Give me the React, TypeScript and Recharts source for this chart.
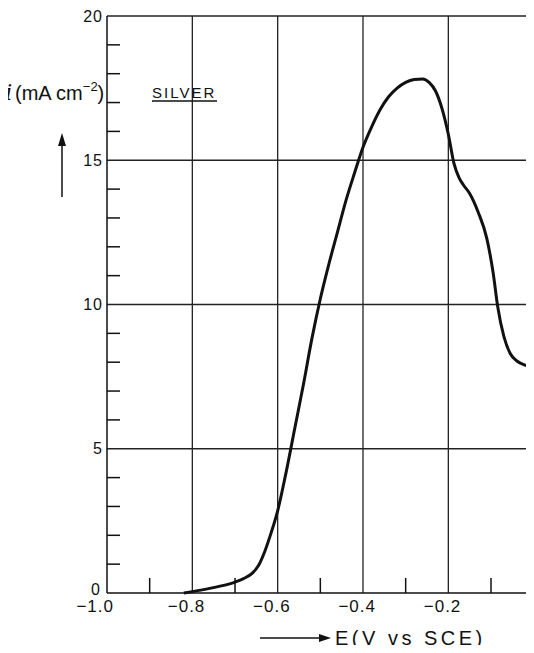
import { LineChart, Line, XAxis, YAxis, ReferenceLine } from 'recharts';

// potential E (V vs SCE) and current density i (mA cm-2)
const potential = [
  -0.82, -0.78, -0.74, -0.7, -0.68, -0.66, -0.645, -0.63, -0.615, -0.6, -0.58, -0.56,
  -0.54, -0.52, -0.5, -0.48, -0.46, -0.44, -0.42, -0.4, -0.38, -0.36, -0.34, -0.32,
  -0.3, -0.28, -0.26, -0.245, -0.23, -0.215, -0.2, -0.187, -0.175, -0.165, -0.15,
  -0.13, -0.11, -0.095, -0.084, -0.07, -0.055, -0.04, -0.02, 0, 0.03,
];
const current = [
  0, 0.1, 0.22, 0.38, 0.5, 0.68, 0.95, 1.45, 2.1, 2.85, 4.2, 5.7,
  7.2, 8.8, 10.2, 11.4, 12.5, 13.6, 14.55, 15.45, 16.15, 16.75, 17.2, 17.5,
  17.7, 17.8, 17.82, 17.7, 17.4, 16.8, 15.9, 14.9, 14.4, 14.15, 13.85,
  13.2, 12.3, 11.1, 9.9, 8.9, 8.3, 8.05, 7.9, 7.8, 7.7,
];

const xTicks = [-1, -0.9, -0.8, -0.7, -0.6, -0.5, -0.4, -0.3, -0.2, -0.1, 0, 0.1, 0.2];
const yTicks = Array.from({ length: 21 }, (_, k) => k);
const gridE = [-0.8, -0.6, -0.4, -0.2, 0];
const gridI = [5, 10, 15, 20];

const data = potential.map((e, k) => ({ e, i: current[k] }));

const INK = '#111';
const FONT = '"Liberation Sans", Arial, sans-serif';

const YTick = ({ x, y, payload }: any) => {
  const v = payload.value;
  if (v % 5 === 0) {
    return (
      <text x={v === 0 ? x - 6 : x - 4} y={v === 0 ? y - 4 : y} dy="0.35em" textAnchor="end" fontSize={16} fontFamily={FONT} fill={INK} letterSpacing={1}>
        {v}
      </text>
    );
  }
  return <line x1={x} x2={x + 13} y1={y} y2={y} stroke={INK} strokeWidth={1.5} />;
};

const XTick = ({ x, y, payload }: any) => {
  const v = payload.value;
  const tenths = Math.round(v * 10);
  if (tenths % 2 !== 0) {
    return <line x1={x} x2={x} y1={y} y2={y - 15} stroke={INK} strokeWidth={1.5} />;
  }
  if (tenths === 0) {
    return (
      <text x={x} y={y + 12} dy="0.35em" textAnchor="middle" fontSize={17} fontFamily={FONT} fill={INK}>
        0
      </text>
    );
  }
  const label = (v < 0 ? '\u2212' : '') + Math.abs(v).toFixed(1);
  return (
    <text x={x + (tenths === -10 ? 7 : 13)} y={y + 13} dy="0.35em" textAnchor="end" fontSize={17} fontFamily={FONT} fill={INK} letterSpacing={1}>
      {label}
    </text>
  );
};

export default function App() {
  return (
    <div style={{ position: 'relative', width: 534, height: 653, margin: -8, overflow: 'hidden', background: '#fff' }}>
      <LineChart width={660} height={653} data={data} margin={{ top: 16, right: 41, left: 0, bottom: 30 }}>
        {gridE.map((g) => (
          <ReferenceLine key={'x' + g} x={g} stroke="#222" strokeWidth={1.3} />
        ))}
        {gridI.map((g) => (
          <ReferenceLine key={'y' + g} y={g} stroke="#222" strokeWidth={1.3} />
        ))}
        <XAxis
          dataKey="e"
          type="number"
          domain={[-1, 0.2]}
          ticks={xTicks}
          interval={0}
          tickSize={0}
          tickMargin={0}
          tickLine={false}
          tick={<XTick />}
          axisLine={{ stroke: INK, strokeWidth: 1.5 }}
          height={30}
        />
        <YAxis
          type="number"
          domain={[0, 20]}
          ticks={yTicks}
          interval={0}
          tickSize={0}
          tickMargin={0}
          tickLine={false}
          tick={<YTick />}
          axisLine={{ stroke: INK, strokeWidth: 1.5 }}
          width={107}
        />
        <Line
          type="monotone"
          dataKey="i"
          stroke={INK}
          strokeWidth={3}
          dot={false}
          isAnimationActive={false}
        />
      </LineChart>
      <svg width={534} height={653} style={{ position: 'absolute', left: 0, top: 0, pointerEvents: 'none' }}>
        <text x={5} y={100} fontSize={23} fontStyle="italic" fontFamily='"DejaVu Serif", serif' fill={INK}>
          i
        </text>
        <text x={15} y={100} fontSize={20} fontFamily={FONT} fill={INK}>
          <tspan>(mA cm</tspan>
          <tspan dy={-9} fontSize={13}>{'\u2212'}2</tspan>
          <tspan dy={9}>)</tspan>
        </text>
        <line x1={62} y1={197} x2={62} y2={142} stroke={INK} strokeWidth={1.5} />
        <polygon points="62,133 58,146 66,146" fill={INK} />
        <text x={152} y={98} fontSize={15} fontFamily={FONT} fill={INK} letterSpacing={2}>
          SILVER
        </text>
        <line x1={152} x2={217} y1={101} y2={101} stroke={INK} strokeWidth={1.3} />
        <line x1={260} x2={324} y1={638} y2={638} stroke={INK} strokeWidth={1.5} />
        <polygon points="331,638 319,634 319,642" fill={INK} />
        <text x={335} y={645} fontSize={20} fontFamily={FONT} fill={INK} letterSpacing={3.5}>
          E(V vs SCE)
        </text>
      </svg>
    </div>
  );
}
